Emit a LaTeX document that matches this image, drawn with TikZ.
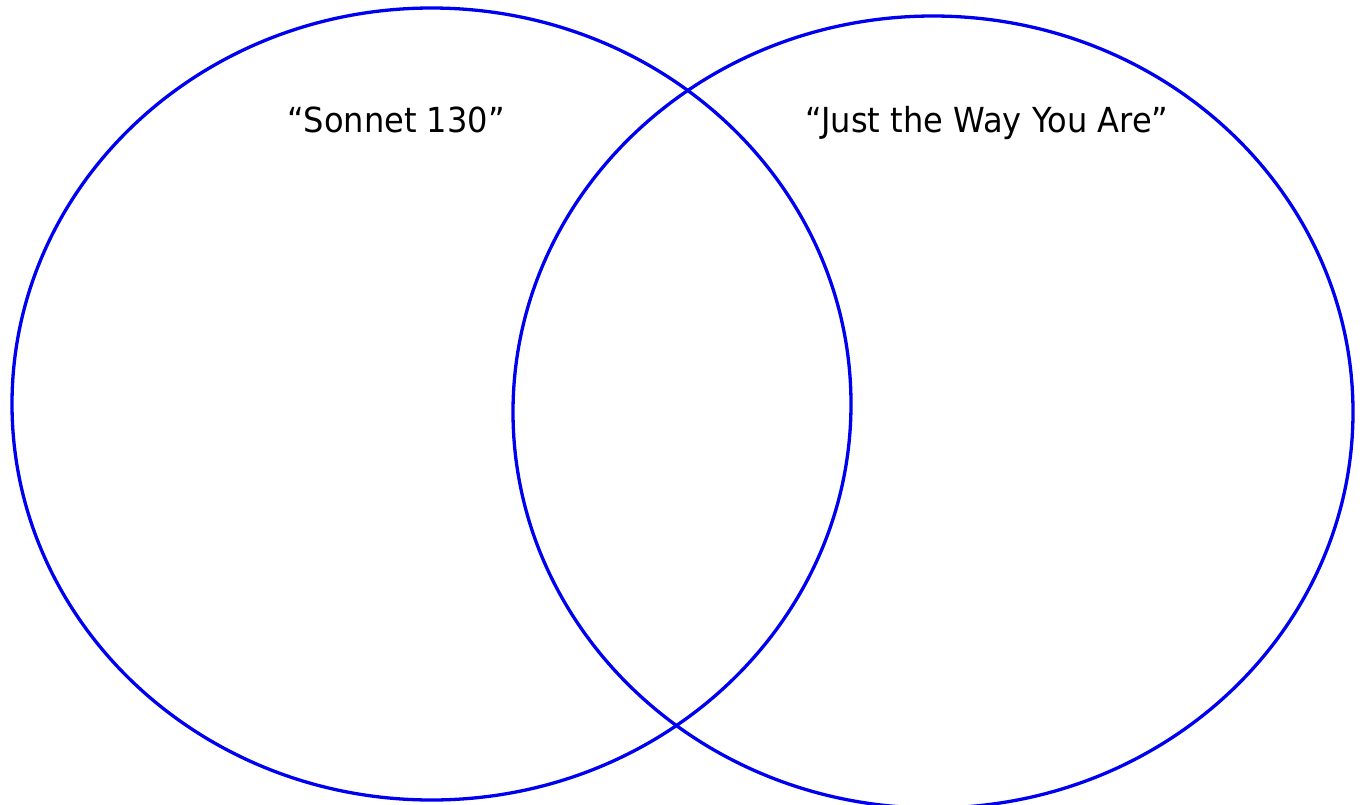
\documentclass[tikz,border=0pt]{standalone}
\usepackage{fontspec}
\setmainfont[FakeStretch=0.93]{DejaVu Sans}
\begin{document}
\begin{tikzpicture}[x=1pt,y=-1pt,
  venn/.style={draw={rgb,255:red,0;green,0;blue,240},line width=3.3pt},
  lbl/.style={font=\fontsize{34.5}{40}\selectfont,anchor=base,inner sep=0pt}]
\useasboundingbox (0,0) rectangle (1363,804);
\draw[venn] (431.5,404) ellipse [x radius=419.5, y radius=396];
\draw[venn] (933,412) ellipse [x radius=420, y radius=396];
\node[lbl] (sonnet) at (396,132) {“Sonnet 130”};
\node[lbl] (jtway) at (987,132) {“Just the Way You Are”};
\end{tikzpicture}
\end{document}
